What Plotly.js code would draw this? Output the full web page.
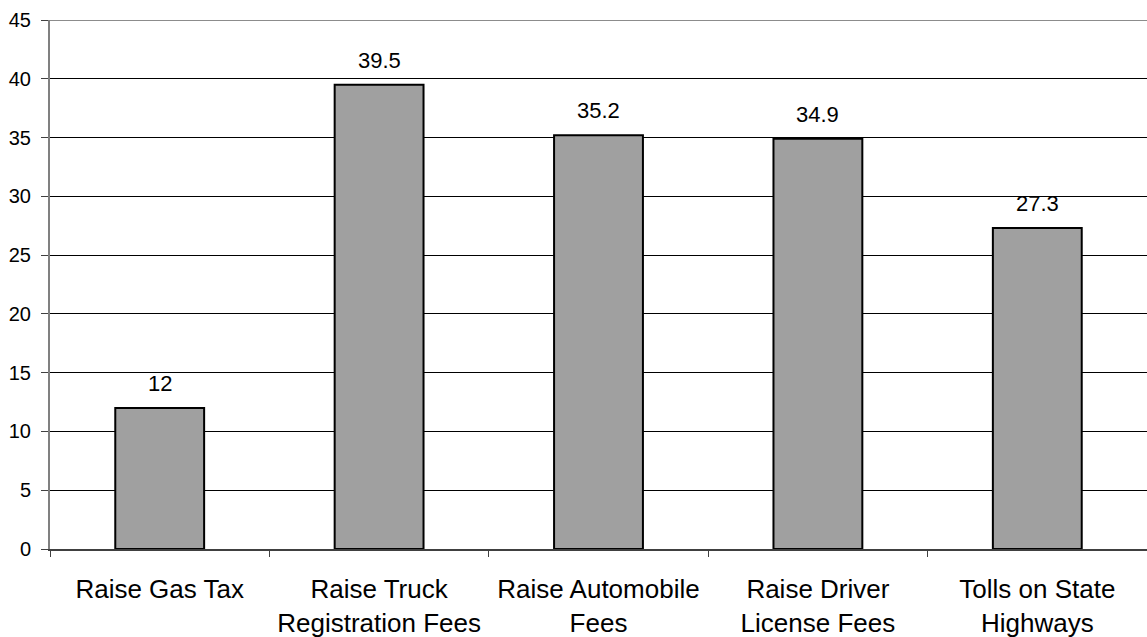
<!DOCTYPE html>
<html><head><meta charset="utf-8">
<script src="https://cdn.plot.ly/plotly-3.0.1.min.js"></script>
<style>html,body{margin:0;padding:0;background:#fff}#chart{width:1147px;height:637px}</style>
</head><body><div id="chart"></div>
<script>
const categories = ["Raise Gas Tax", "Raise Truck<br>Registration Fees", "Raise Automobile<br>Fees", "Raise Driver<br>License Fees", "Tolls on State<br>Highways"];
const values = [12, 39.5, 35.2, 34.9, 27.3];
const yTicks = [0, 5, 10, 15, 20, 25, 30, 35, 40, 45];

const FONT = "Liberation Sans, Arial, sans-serif";

const trace = {
  type: "bar",
  x: categories,
  y: values,
  width: 0.405,
  marker: {color: "#a0a0a0", line: {color: "#000000", width: 2}},
  hoverinfo: "none"
};

const labelAnnotations = categories.map((c, i) => ({
  x: c, y: values[i], xref: "x", yref: "y",
  text: String(values[i]),
  showarrow: false,
  yanchor: "bottom", xanchor: "center",
  yshift: 10,
  font: {family: FONT, size: 22, color: "#000"}
}));

const layout = {
  width: 1147, height: 637,
  margin: {l: 50, r: 0, t: 20, b: 88},
  paper_bgcolor: "#fff", plot_bgcolor: "#fff",
  showlegend: false,
  font: {family: FONT, color: "#000"},
  xaxis: {
    type: "category",
    tickson: "boundaries",
    ticks: "outside", ticklen: 6, tickcolor: "#404040", tickwidth: 1,
    showline: true, linecolor: "#404040", linewidth: 2,
    showgrid: false,
    tickangle: 0,
    tickfont: {size: 26, color: "#000"},
    ticklabelstandoff: 16,
    range: [-0.5, 4.5]
  },
  yaxis: {
    range: [0, 45],
    tickvals: yTicks,
    ticktext: yTicks.map(String),
    ticks: "outside", ticklen: 7, tickcolor: "#404040", tickwidth: 1,
    showline: true, linecolor: "#808080", linewidth: 2,
    showgrid: true, gridcolor: "#000000", gridwidth: 1,
    zeroline: false,
    tickfont: {size: 20, color: "#000"},
    ticklabelstandoff: 6
  },
  bargap: 0.6,
  annotations: labelAnnotations,
  shapes: [{type: "line", xref: "paper", yref: "y", x0: 0, x1: 1, y0: 45, y1: 45, line: {color: "#8c8c8c", width: 2}}]
};

Plotly.newPlot("chart", [trace], layout, {displayModeBar: false, staticPlot: true});
</script></body></html>
